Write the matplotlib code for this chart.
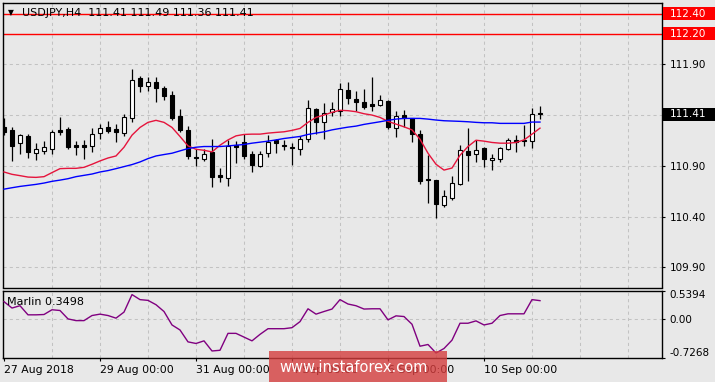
import numpy as np
import matplotlib.pyplot as plt
from matplotlib.patches import Rectangle
from matplotlib.transforms import blended_transform_factory

# USDJPY H4 bars, 27 Aug 2018 00:00 .. 11 Sep 2018 04:00
opens = [111.278, 111.252, 111.120, 111.192, 111.031, 111.050, 111.066, 111.254, 111.261, 111.103,
         111.103, 111.096, 111.222, 111.281, 111.264, 111.219, 111.367, 111.766, 111.684, 111.730,
         111.664, 111.598, 111.387, 111.249, 110.991, 110.971, 111.037, 110.806, 110.783, 111.106,
         111.130, 111.014, 110.898, 111.031, 111.150, 111.103, 111.090, 111.070, 111.169, 111.459,
         111.328, 111.427, 111.443, 111.648, 111.558, 111.529, 111.509, 111.496, 111.539, 111.271,
         111.400, 111.367, 111.212, 110.773, 110.756, 110.512, 110.585, 110.717, 111.044, 111.021,
         111.080, 110.957, 110.964, 111.063, 111.152, 111.152, 111.140, 111.410]
highs = [111.367, 111.284, 111.215, 111.212, 111.120, 111.143, 111.254, 111.380, 111.278, 111.143,
         111.150, 111.271, 111.311, 111.344, 111.311, 111.410, 111.855, 111.789, 111.773, 111.773,
         111.684, 111.641, 111.459, 111.294, 111.063, 111.063, 111.162, 110.875, 111.152, 111.146,
         111.217, 111.041, 111.041, 111.202, 111.169, 111.155, 111.123, 111.195, 111.549, 111.469,
         111.519, 111.532, 111.717, 111.727, 111.638, 111.657, 111.779, 111.598, 111.546, 111.437,
         111.450, 111.367, 111.252, 111.011, 110.756, 110.657, 110.799, 111.103, 111.271, 111.152,
         111.090, 111.014, 111.090, 111.172, 111.202, 111.301, 111.469, 111.490]
lows = [111.202, 110.948, 111.021, 110.977, 110.957, 111.014, 111.017, 111.202, 111.070, 111.004,
        110.964, 111.037, 111.162, 111.225, 111.136, 111.189, 111.328, 111.631, 111.638, 111.532,
        111.552, 111.354, 111.235, 110.964, 110.898, 110.948, 110.690, 110.740, 110.700, 110.925,
        110.964, 110.839, 110.888, 110.991, 111.027, 111.056, 110.905, 111.004, 111.136, 111.209,
        111.169, 111.387, 111.393, 111.506, 111.440, 111.459, 111.437, 111.492, 111.261, 111.185,
        111.278, 111.136, 110.724, 110.529, 110.387, 110.496, 110.568, 110.707, 110.750, 110.938,
        110.892, 110.858, 110.938, 111.056, 111.037, 111.096, 111.073, 111.360]
closes = [111.232, 111.096, 111.202, 111.037, 111.063, 111.083, 111.232, 111.235, 111.086, 111.090,
          111.090, 111.209, 111.271, 111.245, 111.229, 111.377, 111.750, 111.690, 111.724, 111.670,
          111.585, 111.373, 111.254, 110.997, 110.977, 111.021, 110.793, 110.789, 111.096, 111.090,
          110.997, 110.908, 111.021, 111.136, 111.120, 111.096, 111.076, 111.162, 111.466, 111.334,
          111.420, 111.459, 111.657, 111.565, 111.532, 111.482, 111.492, 111.546, 111.284, 111.387,
          111.367, 111.215, 110.750, 110.763, 110.519, 110.601, 110.734, 111.053, 111.004, 111.053,
          110.964, 110.974, 111.073, 111.152, 111.136, 111.140, 111.410, 111.410]

# moving averages as drawn on the chart
ma_red = [110.839, 110.816, 110.803, 110.789, 110.786, 110.793, 110.833, 110.872, 110.875, 110.875,
          110.885, 110.915, 110.948, 110.977, 110.997, 111.083, 111.202, 111.278, 111.328, 111.348,
          111.328, 111.278, 111.189, 111.096, 111.063, 111.053, 111.037, 111.103, 111.155, 111.195,
          111.209, 111.212, 111.212, 111.222, 111.229, 111.235, 111.249, 111.268, 111.328, 111.377,
          111.400, 111.427, 111.447, 111.443, 111.433, 111.413, 111.400, 111.377, 111.338, 111.311,
          111.284, 111.254, 111.162, 111.024, 110.915, 110.858, 110.878, 111.004, 111.090, 111.152,
          111.143, 111.130, 111.123, 111.123, 111.130, 111.155, 111.212, 111.271]
ma_blue = [110.670, 110.684, 110.697, 110.707, 110.717, 110.730, 110.747, 110.759, 110.773, 110.793,
           110.806, 110.819, 110.839, 110.853, 110.872, 110.892, 110.912, 110.938, 110.971, 110.997,
           111.011, 111.024, 111.047, 111.070, 111.083, 111.090, 111.090, 111.090, 111.096, 111.103,
           111.110, 111.123, 111.133, 111.143, 111.155, 111.169, 111.179, 111.189, 111.209, 111.222,
           111.235, 111.254, 111.268, 111.281, 111.291, 111.308, 111.321, 111.334, 111.348, 111.360,
           111.367, 111.367, 111.367, 111.360, 111.351, 111.344, 111.341, 111.338, 111.334, 111.328,
           111.324, 111.324, 111.318, 111.318, 111.318, 111.318, 111.331, 111.331]

marlin = [0.331, 0.212, 0.255, 0.085, 0.085, 0.091, 0.180, 0.166, 0.009, -0.023,
          -0.023, 0.072, 0.098, 0.072, 0.023, 0.136, 0.463, 0.369, 0.355, 0.274,
          0.147, -0.104, -0.198, -0.420, -0.450, -0.401, -0.590, -0.577, -0.261, -0.261,
          -0.331, -0.401, -0.280, -0.174, -0.174, -0.174, -0.155, -0.042, 0.198, 0.098,
          0.147, 0.193, 0.369, 0.287, 0.255, 0.193, 0.198, 0.198, -0.009, 0.066,
          0.053, -0.091, -0.501, -0.469, -0.628, -0.544, -0.388, -0.072, -0.072, -0.028,
          -0.104, -0.072, 0.072, 0.104, 0.104, 0.104, 0.369, 0.3498]

level_lines = [112.40, 112.20]
price_ticks = [109.90, 110.40, 110.90, 111.40, 111.90, 112.40]
date_labels = ["27 Aug 2018", "29 Aug 00:00", "31 Aug 00:00", "4 Sep 00:00", "6 Sep 00:00", "10 Sep 00:00"]
date_bars = [0, 12, 24, 36, 48, 60]
marlin_ticks = [0.5394, 0.0, -0.7268]
marlin_labels = ["0.5394", "0.00", "-0.7268"]

BG = '#e8e8e8'
GRID = '#c2c2c2'
W, H = 715, 382
DASH = (0, (3, 3))

fig = plt.figure(figsize=(W / 100, H / 100), dpi=100, facecolor=BG)


def px_axes(x0, y0, x1, y1):
    return fig.add_axes([x0 / W, 1 - y1 / H, (x1 - x0) / W, (y1 - y0) / H], facecolor=BG)


ax = px_axes(2.5, 2.7, 662, 287.5)
ax2 = px_axes(2.5, 290.5, 662, 358.3)

o = np.array(opens); h = np.array(highs); l = np.array(lows); c = np.array(closes)
x = np.arange(len(o))
up = c > o
lo = np.minimum(o, c)
hh = np.maximum(np.abs(c - o), 0.008)

ax.vlines(x, l, h, color='black', lw=0.9, zorder=2)
ax.bar(x[up], hh[up], bottom=lo[up], width=0.55, color='white', edgecolor='black', lw=0.8, zorder=3)
ax.bar(x[~up], hh[~up], bottom=lo[~up], width=0.55, color='black', edgecolor='black', lw=0.8, zorder=3)
ax.plot(x, ma_red, color='#e5143c', lw=1.0, zorder=4)
ax.plot(x, ma_blue, color='#0000ff', lw=1.0, zorder=4)
for lv in level_lines:
    ax.axhline(lv, color='#ff0000', lw=1.0, zorder=1.5)

for a in (ax, ax2):
    for b in range(6, 83, 6):
        a.axvline(b, color=GRID, lw=0.75, ls=DASH, zorder=0.5)
    a.set_xlim(-0.1875, 82.25)
    for s in a.spines.values():
        s.set_color('black')
        s.set_linewidth(1.0)

ax.set_ylim(109.701, 112.507)
ax.set_xticks([])
ax.yaxis.tick_right()
ax.set_yticks(price_ticks)
ax.set_yticklabels(['%.2f' % p if p not in (111.40, 112.40) else '' for p in price_ticks])
ax.yaxis.grid(True, color=GRID, lw=0.75, ls=DASH)
ax.set_axisbelow(True)
ax.tick_params(axis='y', direction='out', length=2.2, width=0.8, pad=3.6, labelsize=7.5, colors='black')

tr = blended_transform_factory(ax.transAxes, ax.transData)


def price_tag(price, txt, fc):
    ax.add_patch(Rectangle((1.0015, price - 0.064), 0.0788, 0.128, transform=tr,
                           facecolor=fc, edgecolor='none', clip_on=False, zorder=6))
    ax.text(1.0121, price, txt, transform=tr, color='white', fontsize=7.5,
            va='center', ha='left', clip_on=False, zorder=7)


price_tag(112.40, '112.40', '#ff0000')
price_tag(112.20, '112.20', '#ff0000')
price_tag(closes[-1], '%.2f' % closes[-1], '#000000')

# indicator window
ax2.plot(x, marlin, color='#800080', lw=1.0, zorder=3)
ax2.axhline(0, color=GRID, lw=0.75, ls=DASH, zorder=0.5)
ax2.set_ylim(-0.7268, 0.5394)
ax2.yaxis.tick_right()
ax2.set_yticks(marlin_ticks)
ax2.set_yticklabels(marlin_labels)
ax2.tick_params(axis='y', direction='out', length=2.2, width=0.8, pad=3.0, labelsize=7.5, colors='black')
tl = ax2.get_yticklabels()
tl[0].set_va('top')
tl[2].set_va('bottom')
ax2.set_xticks(date_bars)
ax2.set_xticklabels(date_labels)
ax2.tick_params(axis='x', direction='out', length=2.2, width=0.8, pad=2.5, labelsize=7.8, colors='black')
for t in ax2.get_xticklabels():
    t.set_ha('left')

fig.text(8 / W, 1 - 13 / H, '\u25bc', fontsize=5.5, va='center', ha='left', color='black')
fig.text(22 / W, 1 - 13 / H, 'USDJPY,H4  111.41 111.49 111.36 111.41', fontsize=8,
         va='center', ha='left', color='#000000')
fig.text(7 / W, 1 - 302 / H, 'Marlin 0.3498', fontsize=8, va='center', ha='left', color='black')

# watermark
fig.patches.append(Rectangle((269 / W, 0), (447 - 269) / W, (382 - 351) / H, transform=fig.transFigure,
                             facecolor='#d53e3e', alpha=0.8, edgecolor='none', zorder=5))
fig.text(279 / W, 1 - 367 / H, 'www.instaforex.com', fontsize=10.5, color='white',
         va='center', ha='left', zorder=6)

fig.savefig('out.png', dpi=100, facecolor=BG)
